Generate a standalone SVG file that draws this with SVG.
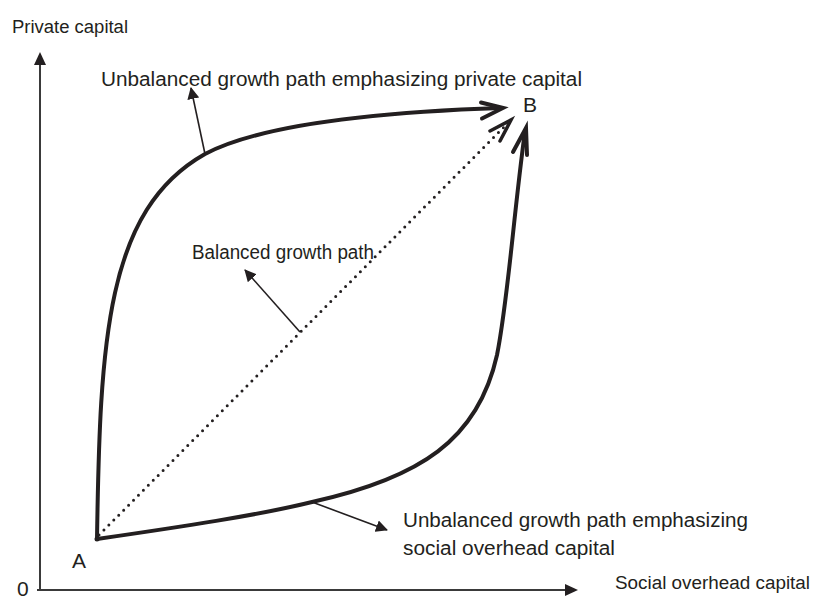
<svg xmlns="http://www.w3.org/2000/svg" width="818" height="599" viewBox="0 0 818 599">
<defs>
<style>
text{font-family:"Liberation Sans",Arial,sans-serif;fill:#231f20}
.lbl{font-size:20px}
.ax{font-size:18px}
.pt{font-size:21px}
.curve{fill:none;stroke:#231f20;stroke-width:4;stroke-linecap:round;stroke-linejoin:round}
.head{fill:none;stroke:#231f20;stroke-width:4;stroke-linecap:round;stroke-linejoin:miter}
.axis{fill:none;stroke:#3a3a3a;stroke-width:2}
.ptr{fill:none;stroke:#231f20;stroke-width:1.6}
</style>
<marker id="tri" viewBox="0 0 12 12" refX="11" refY="6" markerWidth="12" markerHeight="12" markerUnits="userSpaceOnUse" orient="auto">
<path d="M0,0 L12,6 L0,12 Z" fill="#231f20"/>
</marker>
</defs>
<g id="axes">
<line class="axis" x1="37" y1="590" x2="566" y2="590"/>
<path d="M565,584 L578,590 L565,596 Z" fill="#231f20"/>
<line class="axis" x1="40" y1="591" x2="40" y2="63"/>
<path d="M34,65 L40,52 L46,65 Z" fill="#231f20"/>
<text class="ax" x="12" y="33" textLength="116" lengthAdjust="spacingAndGlyphs">Private capital</text>
<text class="ax" x="615" y="589" textLength="195" lengthAdjust="spacingAndGlyphs">Social overhead capital</text>
<text class="pt" x="17" y="596">0</text>
</g>
<g id="pointA">
<circle cx="97" cy="539" r="2.5" fill="#231f20"/>
<text class="pt" x="72" y="568">A</text>
</g>
<g id="pointB">
<text class="pt" x="523" y="112">B</text>
</g>
<g id="connectors">
<g id="upper-path">
<path class="curve" d="M97,539 C100,340 106,210 205,154 C262,124 380,112 501,108"/>
<polyline class="head" points="481,102.5 503,108 482,118.5"/>
</g>
<g id="lower-path">
<path class="curve" d="M97,539 C180,527 260,515 312,502 C420,478 478,440 497,355 C508,300 513,220 525,131"/>
<polyline class="head" points="513,152 526,128 527,155"/>
</g>
<g id="balanced-path">
<line x1="99" y1="535" x2="506" y2="125" stroke="#231f20" stroke-width="3" stroke-linecap="round" stroke-dasharray="0 7"/>
<polyline points="490,131 511,120 500,141" fill="none" stroke="#231f20" stroke-width="3.5" stroke-linecap="round" stroke-linejoin="miter"/>
</g>
<line class="ptr" x1="205" y1="154" x2="191" y2="88" marker-end="url(#tri)"/>
<line class="ptr" x1="300" y1="332" x2="245" y2="270" marker-end="url(#tri)"/>
<line class="ptr" x1="312" y1="502" x2="387" y2="530" marker-end="url(#tri)"/>
</g>
<g id="label-upper">
<text class="lbl" x="101" y="86" textLength="481" lengthAdjust="spacingAndGlyphs">Unbalanced growth path emphasizing private capital</text>
</g>
<g id="label-balanced">
<text class="lbl" x="192" y="259" textLength="182" lengthAdjust="spacingAndGlyphs">Balanced growth path</text>
</g>
<g id="label-lower">
<text class="lbl" x="403" y="527" textLength="345" lengthAdjust="spacingAndGlyphs">Unbalanced growth path emphasizing</text>
<text class="lbl" x="403" y="555" textLength="212" lengthAdjust="spacingAndGlyphs">social overhead capital</text>
</g>
</svg>
